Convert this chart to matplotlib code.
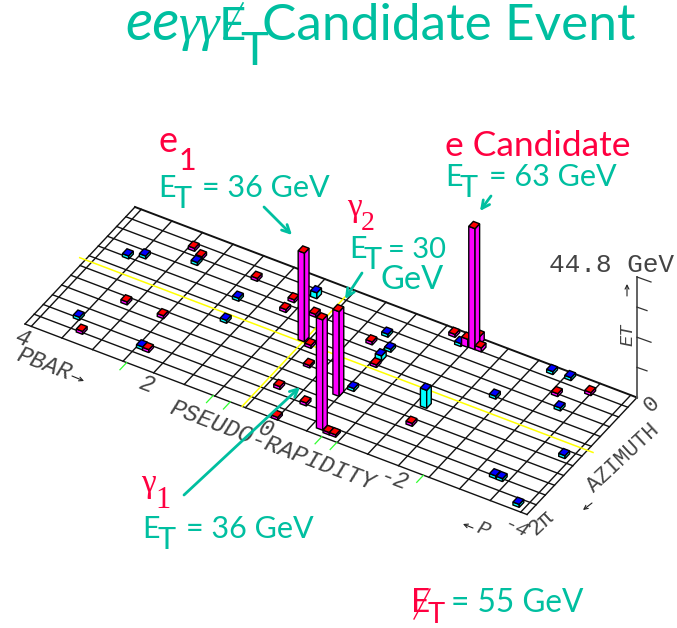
import numpy as np
import matplotlib
matplotlib.use("Agg")
import matplotlib.pyplot as plt
from matplotlib.patches import Polygon, FancyArrowPatch

W, H = 677, 628
TEAL = "#00BFA0"
RED = "#FF0040"
SANS = "Lato"
MONO = "Liberation Mono"

# corners of the eta-phi plane on the page
O = np.array([135.0, 207.0])
EA = np.array([502.0, 190.5])
PA = np.array([-110.0, 117.0])
Z_SCALE = 2.69

def proj(eta, phi, et=0.0):
    p = O + (4 - np.asarray(eta)) / 8 * EA + np.asarray(phi) / 360 * PA
    return np.array([p[0], p[1] - et * Z_SCALE])

# towers: eta, phi (deg), ET (GeV)
red_eta = [2.86, 2.68, 1.79, 3.06, 2.48, 3.26, 2.28, 1.12, 1.11, 0.71, 0.42, 0.22, 0.33, -0.16, 0.02,
           0.57, -0.62, -0.44, -1.52, -1.62, -1.41, -1.52, -1.15, -0.26, -0.56, -3.01, -3.39,
           -0.75, -0.85, -1.63]
red_phi = [41.8, 54.7, 55.9, 221.3, 221.5, 326.4, 310.8, 72.7, 102, 87.3, 161.7, 207.2, 281.8, 296.3, 353,
           152.6, 337.3, 246.4, 23.5, 23.3, 24.5, 8.5, 12.8, 101.2, 148.9, 58.9, 28,
           342.3, 342, 251.4]
red_et = [1.1, 1.1, 1.1, 1.1, 1.1, 1.1, 1.1, 1.1, 1.1, 1.1, 1.1, 0.9, 1.1, 1.1, 1.0,
          33, 41, 31.5, 45, 1.5, 3, 3, 1.1, 1.1, 1.0, 1.1, 1.1,
          0.9, 0.9, 1.1]

blue_eta = [3.55, 3.35, 2.67, 1.79, 1.69, 3.45, 2.38, 0.9, -1.32, -0.36, -0.56, -0.55, -0.56, -1.6,
            -2.71, -2.99, -2.31, -3.2, -3.78, -3.19, -3.3, -3.78]
blue_phi = [115.8, 101.2, 71.6, 117, 177.5, 297, 310, 44.2, 28.7, 70.2, 101.9, 130.3, 222.6, 198.2,
            13, 11.2, 118, 89, 193.2, 298.6, 299, 343]
blue_et = [1.1, 1.1, 1.1, 1.1, 1.1, 1.1, 1.1, 2.2, 1.1, 1.1, 1.1, 2.0, 1.1, 6.7,
           1.1, 1.1, 1.1, 1.1, 1.1, 1.1, 1.1, 1.1]

tick_etas = [2.38, 1.0, 0.73, -0.73, -0.97, -2.35]
eta_lines = [4, 3.9, 3.4125, 2.925, 2.4375, 1.95, 1.4625, 0.975, 0.4875, 0,
             -0.4875, -0.975, -1.4625, -1.95, -2.4375, -2.925, -3.4125, -3.9, -4]
phi_lines = [0, 30, 60, 90, 120, 150, 180, 210, 240, 270, 300, 330, 360]
et_ticks = [0, 11.2, 22.4, 33.6, 44.8]

fig = plt.figure(figsize=(W / 100, H / 100), dpi=100)
ax = fig.add_axes([0, 0, 1, 1])
ax.set_xlim(0, W)
ax.set_ylim(H, 0)
ax.axis("off")

# grid
for e in eta_lines:
    a, b = proj(e, 0), proj(e, 360)
    ax.plot([a[0], b[0]], [a[1], b[1]], color="#111111", lw=1.0, zorder=1)
for p in phi_lines:
    a, b = proj(4, p), proj(-4, p)
    ax.plot([a[0], b[0]], [a[1], b[1]], color="#111111", lw=1.4 if p == 0 else 1.0, zorder=1)

# yellow lines
a, b = proj(4.09, 162.5), proj(-4.09, 162.5)
ax.plot([a[0], b[0]], [a[1], b[1]], color="#FFFF00", lw=1.1, zorder=1.5)
a, b = proj(0.54, 24), proj(0.54, 360)
ax.plot([a[0], b[0]], [a[1], b[1]], color="#FFFF00", lw=1.1, zorder=1.5)

# green ticks
for e in tick_etas:
    a, b = proj(e, 360), proj(e, 382)
    ax.plot([a[0], b[0]], [a[1], b[1]], color="#30FF30", lw=0.9, zorder=1.5)

# towers
towers = [(e, p, z, "#FF0000", "#FF00FF") for e, p, z in zip(red_eta, red_phi, red_et)]
towers += [(e, p, z, "#0000FF", "#00FFFF") for e, p, z in zip(blue_eta, blue_phi, blue_et)]
towers.sort(key=lambda t: proj(t[0], t[1])[1] + 0.0)
DE, DP = 0.05, 7.5
for i, (e, p, z, top, side) in enumerate(towers):
    lw = 1.0
    zo = 3 + i * 0.01
    fl, fr = (e + DE, p + DP), (e - DE, p + DP)
    br, bl = (e - DE, p - DP), (e + DE, p - DP)
    face1 = [proj(*fl), proj(*fr), proj(*fr, z), proj(*fl, z)]
    face2 = [proj(*fr), proj(*br), proj(*br, z), proj(*fr, z)]
    roof = [proj(*fl, z), proj(*fr, z), proj(*br, z), proj(*bl, z)]
    ax.add_patch(Polygon(face1, fc=side, ec="black", lw=lw, zorder=zo))
    ax.add_patch(Polygon(face2, fc=side, ec="black", lw=lw, zorder=zo))
    ax.add_patch(Polygon(roof, fc=top, ec="black", lw=lw, zorder=zo))

# ET axis
base = proj(-4, 0)
ax.plot([base[0], base[0]], [base[1], base[1] - 44.8 * Z_SCALE], color="#555555", lw=1.3, zorder=2)
for i, t in enumerate(et_ticks[1:]):
    y = base[1] - t * Z_SCALE
    d = (14, 5) if i % 2 == 1 else (10, 3.5)
    ax.plot([base[0], base[0] + d[0]], [y, y + d[1]], color="#333333", lw=0.9, zorder=2)

def mono(x, y, s, size, rot=0, family=MONO, **kw):
    ax.text(x, y, s, family=family, fontsize=size, rotation=rot, rotation_mode="anchor",
            ha="left", va="baseline", color="#444444", zorder=6, **kw)

def small_arrow(start, end):
    ax.annotate("", xy=end, xytext=start,
                arrowprops=dict(arrowstyle="->", color="#222222", lw=0.8,
                                shrinkA=0, shrinkB=0, mutation_scale=7))

ROT_E, ROT_P = -20.8, 43
mono(549, 272, "44.8 GeV", 18.8)
mono(632, 346, "ET", 13.5, rot=90, style="italic")
small_arrow((627, 296), (627, 284))
mono(13, 342, "4", 17, rot=ROT_E, style="italic")
mono(15, 360, "PBAR", 17, rot=ROT_E, style="italic")
small_arrow((72, 376), (84, 381))
mono(138, 388, "2", 17, rot=ROT_E, style="italic")
mono(168, 413, "PSEUDO-RAPIDITY", 17.5, rot=ROT_E, style="italic")
mono(257, 433, "0", 17, rot=ROT_E, style="italic")
mono(378, 481, "-2", 17, rot=ROT_E, style="italic")
small_arrow((473, 528), (463, 524))
mono(475, 532, "P", 15, rot=ROT_E, style="italic")
mono(503, 528, "-4", 15, rot=ROT_E - 4, style="italic")
mono(535, 536, "2\u03c0", 16, rot=ROT_P)
mono(594, 493, "AZIMUTH", 15.5, rot=ROT_P)
small_arrow((592, 503), (583, 510))
mono(651, 413, "0", 16, rot=ROT_P)

# annotation text
def sans(x, y, s, size, color=TEAL, **kw):
    kw.setdefault("family", SANS)
    ax.text(x, y, s, fontsize=size, color=color, ha="left", va="baseline", zorder=7, **kw)

def et_label(x, y, tail, size=22):
    sans(x, y, "E", size)
    sans(x + 15, y + 11, "T", size)
    sans(x + 44, y, tail, size)

FS = 22
sans(158, 152, "e", 26, RED)
sans(179, 170, "1", 22, RED)
et_label(158, 197, "= 36 GeV", size=FS)
sans(347, 216, "\u03b3", 24, RED, family="Liberation Serif")
sans(361, 230, "2", 20, RED, family="Liberation Serif")
et_label(349, 258, "", size=FS)
sans(388, 258, "= 30", 21)
sans(381, 289, "GeV", 23.5)
sans(445, 156, "e Candidate", 25.5, RED)
et_label(445, 186, "= 63 GeV", size=FS)
sans(141, 492, "\u03b3", 24, RED, family="Liberation Serif")
sans(155, 508, "1", 22, RED, family="Liberation Serif")
et_label(142, 538, "= 36 GeV", size=FS)
sans(411, 612, "E", 24, RED)
sans(428, 623, "T", 21, RED)
ax.plot([414, 430], [619, 589], color=RED, lw=1.0, zorder=7)
sans(451, 612, "= 55 GeV", 22.8)

# title
sans(125, 40, "ee", 41, style="italic")
sans(178, 40, "\u03b3\u03b3", 38, family="Liberation Serif", style="italic")
sans(219, 40, "E", 34)
ax.plot([224, 243], [38, 3], color=TEAL, lw=1.2, zorder=7)
sans(240, 65, "T", 34)
sans(262, 40, "Candidate Event", 37)

# arrows
for start, end in [((264, 207), (292, 235)), ((491, 196), (480, 211)),
                   ((362, 273), (345, 299)), ((184, 495), (300, 387))]:
    ax.add_patch(FancyArrowPatch(start, end, arrowstyle="->", color=TEAL, lw=2.0,
                                 mutation_scale=14, shrinkA=0, shrinkB=0, zorder=8))

fig.savefig("out.png", dpi=100)
